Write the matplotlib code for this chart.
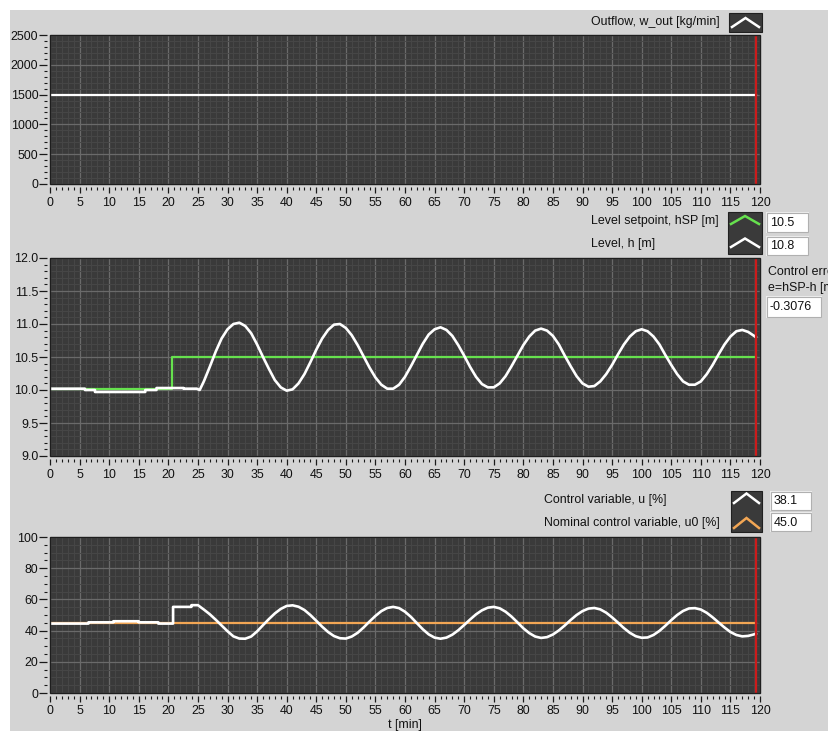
import matplotlib
matplotlib.use('Agg')
import matplotlib.pyplot as plt
from matplotlib.patches import Rectangle
from matplotlib.lines import Line2D
from matplotlib.ticker import MultipleLocator, FormatStrFormatter

W, H = 829, 731
plt.rcParams['font.family'] = ['Liberation Sans', 'DejaVu Sans']
LBL = ['Liberation Sans', 'DejaVu Sans']

# ---- data ----
t_now = 119.3

t_w = [0, 119.3]
w_out = [1500, 1500]

t_sp = [0, 20.6, 20.6, 119.3]
h_sp = [10.01, 10.01, 10.5, 10.5]

t_h = [0, 5.9, 5.9, 7.6, 7.6, 16.1, 16.1, 18.0, 18.0, 22.6, 22.6, 24.8, 25.3] + list(range(26, 120)) + [119.3]
h = [10.02, 10.02, 10.00, 10.00, 9.97, 9.97, 10.00, 10.00, 10.03, 10.03, 10.02, 10.02, 10.00,
     10.13, 10.35, 10.58, 10.78, 10.92, 11.00, 11.02, 10.97, 10.86, 10.69,
     10.50, 10.32, 10.15, 10.04, 9.99, 10.01, 10.10, 10.24, 10.42, 10.61,
     10.78, 10.91, 10.99, 11.00, 10.94, 10.83, 10.68, 10.51, 10.34, 10.19,
     10.08, 10.02, 10.02, 10.08, 10.20, 10.36, 10.53, 10.70, 10.84, 10.92,
     10.95, 10.91, 10.82, 10.68, 10.52, 10.35, 10.20, 10.09, 10.04, 10.04,
     10.10, 10.21, 10.36, 10.52, 10.68, 10.81, 10.90, 10.93, 10.90, 10.82,
     10.69, 10.52, 10.36, 10.21, 10.10, 10.05, 10.06, 10.13, 10.24, 10.38,
     10.54, 10.69, 10.81, 10.89, 10.92, 10.89, 10.81, 10.69, 10.53, 10.38,
     10.24, 10.13, 10.08, 10.08, 10.13, 10.24, 10.38, 10.54, 10.69, 10.81,
     10.89, 10.91, 10.88, 10.82,
     10.80]

t_u = [0, 6.5, 6.5, 10.7, 10.7, 15.0, 15.0, 18.3, 18.3, 20.8, 20.8, 23.9, 23.9, 25.0] + list(range(26, 120)) + [119.3]
u = [44.5, 44.5, 45.3, 45.3, 46.0, 46.0, 45.3, 45.3, 44.5, 44.5, 55.2, 55.2, 56.3, 56.3,
     53.5, 50.5, 47.0, 43.3, 39.6, 36.3, 34.9, 34.8, 36.2, 39.5,
     43.5, 47.4, 51.0, 53.9, 55.8, 56.2, 55.3, 53.2, 50.0, 46.3,
     42.5, 39.1, 36.5, 35.1, 34.9, 36.2, 38.6, 42.0, 45.8, 49.4,
     52.5, 54.5, 55.2, 54.4, 52.1, 48.8, 44.8, 40.9, 37.6, 35.5,
     34.8, 35.5, 37.4, 40.2, 43.6, 47.1, 50.4, 53.0, 54.7, 55.2,
     54.3, 52.1, 49.0, 45.3, 41.5, 38.4, 36.2, 35.3, 35.8, 37.5,
     40.1, 43.3, 46.8, 50.0, 52.5, 54.1, 54.5, 53.6, 51.5, 48.5,
     45.1, 41.6, 38.6, 36.4, 35.4, 35.6, 37.2, 39.8, 43.1, 46.7,
     50.0, 52.6, 54.2, 54.4, 53.5, 51.4, 48.5, 45.2, 42.0, 39.1,
     37.2, 36.3, 36.6, 37.6,
     38.1]

t_u0 = [0, 119.3]
u0 = [45.0, 45.0]

hsp_now, h_now, err_now = '10.5', '10.8', '-0.3076'
u_now, u0_now = '38.1', '45.0'

PANEL = '#d4d4d4'
PLOT_BG = '#3a3a3a'
GREEN = '#66e14e'
ORANGE = '#f2a654'
RED = '#cc1b1b'

fig = plt.figure(figsize=(W / 100, H / 100), dpi=100)
fig.patch.set_facecolor('white')


def fx(x):
    return x / W


def fy(y):
    return 1 - y / H


def box(x0, y0, x1, y1, **kw):
    fig.patches.append(Rectangle((fx(x0), fy(y1)), (x1 - x0) / W, (y1 - y0) / H,
                                 transform=fig.transFigure, **kw))


def chevron(x0, x1, y_apex, y_end, color):
    fig.lines.append(Line2D([fx(x0), fx((x0 + x1) / 2), fx(x1)], [fy(y_end), fy(y_apex), fy(y_end)],
                            transform=fig.transFigure, color=color, lw=1.8,
                            solid_joinstyle='miter', zorder=3))


def label(x, y, s, size=8.9, **kw):
    fig.text(fx(x), fy(y), s, family=LBL, fontsize=size, va='center', color='#111111', **kw)


def readout(x0, y0, x1, y1, s):
    box(x0 - 1, y0 - 1, x1 + 1, y1 + 1, facecolor='#eeeeee', edgecolor='none', zorder=1)
    box(x0, y0, x1, y1, facecolor='white', edgecolor='#b0b0b0', lw=0.8, zorder=2)
    label(x0 + 3, (y0 + y1) / 2 + 0.5, s, size=9)


# grey front panel behind everything
box(10, 10, W, H, facecolor=PANEL, edgecolor='none', zorder=-10)


def make_axes(top, bottom, ylim, ymaj, ymin, fmt):
    ax = fig.add_axes([fx(50), fy(bottom), 710 / W, (bottom - top) / H])
    ax.set_facecolor(PLOT_BG)
    ax.set_xlim(0, 120)
    ax.set_ylim(*ylim)
    ax.xaxis.set_major_locator(MultipleLocator(5))
    ax.xaxis.set_minor_locator(MultipleLocator(1))
    ax.yaxis.set_major_locator(MultipleLocator(ymaj))
    ax.yaxis.set_minor_locator(MultipleLocator(ymin))
    ax.yaxis.set_major_formatter(FormatStrFormatter(fmt))
    ax.grid(which='minor', color='#474747', lw=0.7)
    ax.grid(which='major', color='#6a6a6a', lw=0.9)
    ax.set_axisbelow(True)
    for s in ax.spines.values():
        s.set_visible(False)
    ax.spines['left'].set_position(('outward', 2))
    ax.spines['bottom'].set_position(('outward', 2))
    ax.tick_params(which='both', direction='out', color='#1a1a1a', labelsize=8.9, labelcolor='#111111')
    ax.tick_params(axis='y', which='major', length=5.5, width=0.9, pad=1)
    ax.tick_params(axis='y', which='minor', length=2.5, width=0.8)
    ax.tick_params(axis='x', which='major', length=4, width=0.9, pad=3)
    ax.tick_params(axis='x', which='minor', length=2.5, width=0.8)
    ax.add_patch(Rectangle((0, 0), 1, 1, transform=ax.transAxes, fill=False,
                           edgecolor='#1e1e1e', lw=1.0, clip_on=False, zorder=5))
    ax.axvline(t_now, color=RED, lw=1.6, zorder=4)
    return ax


ax1 = make_axes(35, 184, (0, 2500), 500, 100, '%d')
ax1.plot(t_w, w_out, color='white', lw=1.6, zorder=3)

ax2 = make_axes(258, 456, (9, 12), 0.5, 0.1, '%.1f')
ax2.plot(t_sp, h_sp, color=GREEN, lw=1.6, zorder=3)
ax2.plot(t_h, h, color='white', lw=1.9, zorder=3)

ax3 = make_axes(537, 693, (0, 100), 20, 5, '%d')
ax3.plot(t_u0, u0, color=ORANGE, lw=1.6, zorder=3)
ax3.plot(t_u, u, color='white', lw=1.9, zorder=3)

label(405, 725, 't [min]', ha='center')

# plot legends and readouts
label(720, 22, 'Outflow, w_out [kg/min]', ha='right')
box(729, 13, 762, 32, facecolor=PLOT_BG, edgecolor='#202020', lw=0.8)
chevron(732, 759, 18, 27, 'white')

label(591, 221, 'Level setpoint, hSP [m]')
label(591, 244, 'Level, h [m]')
box(728, 212, 762, 254, facecolor=PLOT_BG, edgecolor='#202020', lw=0.8)
chevron(731, 759, 216, 224, GREEN)
chevron(731, 759, 238.5, 247, 'white')
readout(767, 213, 808, 232, hsp_now)
readout(767, 237, 808, 255, h_now)

# this caption runs past the right edge in the original front panel too
label(768, 272, 'Control error,')
label(768, 288, 'e=hSP-h [m]')
readout(767, 297, 821, 317, err_now)

label(544, 500, 'Control variable, u [%]')
label(544, 523, 'Nominal control variable, u0 [%]')
box(731, 491, 762, 532, facecolor=PLOT_BG, edgecolor='#202020', lw=0.8)
chevron(734, 759, 493.5, 503, 'white')
chevron(734, 759, 518, 528, ORANGE)
readout(771, 492, 811, 510, u_now)
readout(771, 513, 811, 531, u0_now)

fig.savefig('out.png', dpi=100, facecolor=fig.get_facecolor())
